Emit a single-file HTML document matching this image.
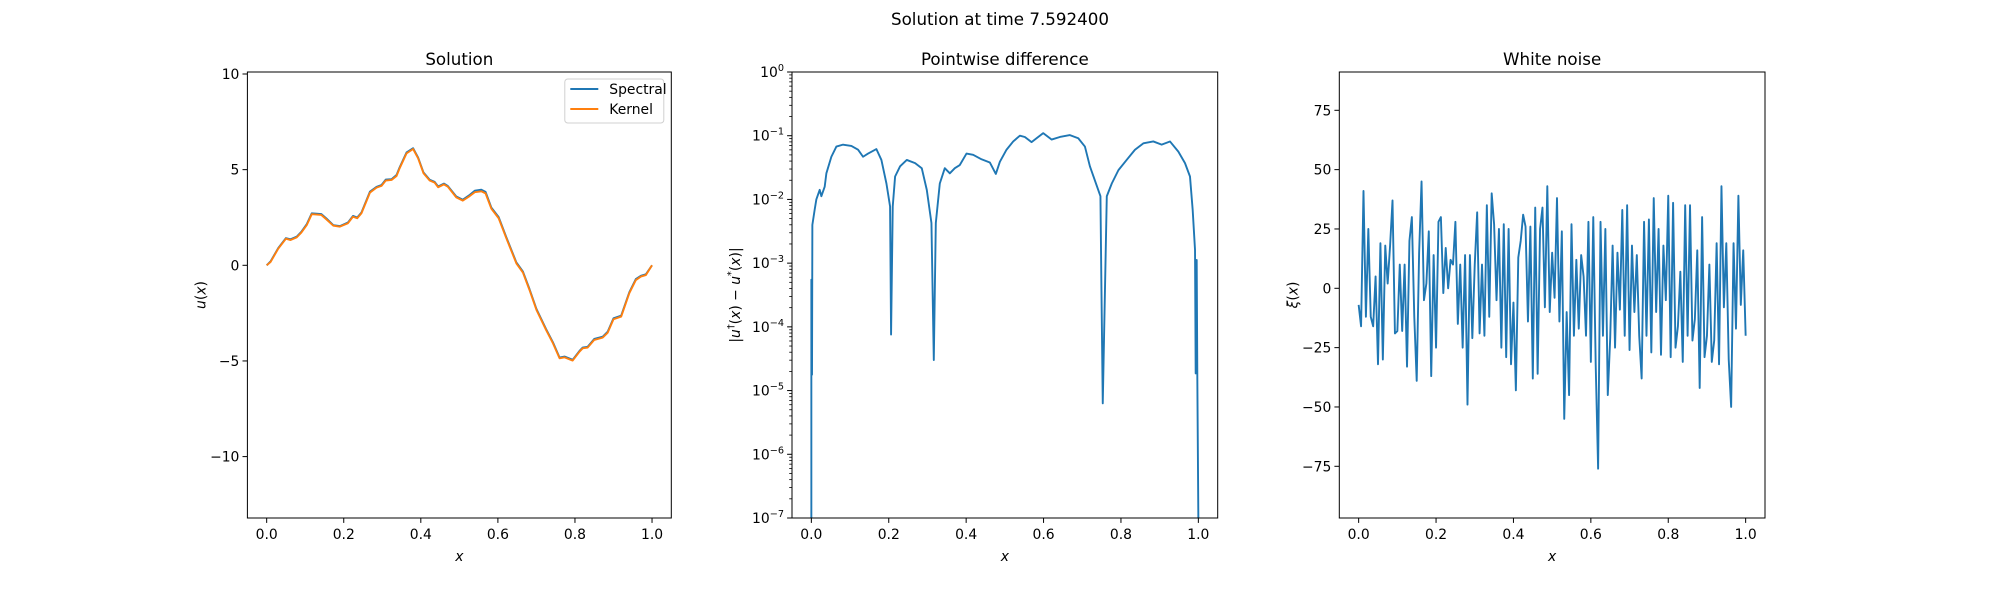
<!DOCTYPE html>
<html><head><meta charset="utf-8">
<style>
html,body{margin:0;padding:0;background:#fff;}
svg{display:block;font-family:"DejaVu Sans","Liberation Sans",sans-serif;}
</style></head>
<body>
<svg id="fig" width="2000" height="600" viewBox="0 0 2000 600">
<rect width="2000" height="600" fill="#fff"/>
<text x="1000" y="25" text-anchor="middle" font-size="16.7">Solution at time 7.592400</text>
</svg>
<script>
// ---- Panel 1 data: solution ----
const solX = [0,0.01,0.03,0.05,0.062,0.078,0.09,0.104,0.117,0.13,0.142,0.155,0.173,0.19,0.211,0.224,0.235,0.246,0.268,0.285,0.298,0.309,0.324,0.337,0.345,0.363,0.38,0.393,0.407,0.423,0.436,0.445,0.46,0.47,0.492,0.509,0.527,0.54,0.557,0.568,0.583,0.602,0.622,0.648,0.665,0.682,0.7,0.725,0.743,0.76,0.773,0.794,0.812,0.82,0.833,0.85,0.872,0.885,0.9,0.92,0.941,0.958,0.971,0.984,1.0];
const spectralY = [0,0.2,0.9,1.42,1.36,1.5,1.75,2.15,2.72,2.7,2.68,2.45,2.1,2.05,2.24,2.58,2.5,2.76,3.85,4.1,4.2,4.48,4.5,4.72,5.12,5.9,6.12,5.63,4.85,4.47,4.36,4.12,4.27,4.15,3.6,3.43,3.68,3.9,3.95,3.84,3.02,2.52,1.46,0.15,-0.33,-1.24,-2.28,-3.33,-4.03,-4.82,-4.77,-4.94,-4.47,-4.3,-4.26,-3.85,-3.73,-3.47,-2.77,-2.63,-1.41,-0.72,-0.55,-0.47,0];
const kernelY = [0,0.17,0.87,1.39,1.32,1.46,1.71,2.1,2.67,2.65,2.63,2.4,2.07,2.02,2.2,2.54,2.46,2.72,3.8,4.06,4.15,4.43,4.46,4.67,5.07,5.85,6.08,5.59,4.81,4.43,4.32,4.08,4.23,4.11,3.55,3.38,3.62,3.82,3.87,3.76,2.96,2.46,1.41,0.1,-0.38,-1.29,-2.33,-3.38,-4.08,-4.86,-4.81,-4.98,-4.51,-4.34,-4.3,-3.9,-3.78,-3.52,-2.82,-2.68,-1.46,-0.77,-0.59,-0.51,0];
const solYTicks = [10,5,0,-5,-10];
const xTicks = [0,0.2,0.4,0.6,0.8,1.0];
const xTickLabels = ["0.0","0.2","0.4","0.6","0.8","1.0"];
// ---- Panel 2 data: pointwise difference (log10 of value) ----
const diffX = [0,0,0.0017,0.0026,0.0086,0.0129,0.0216,0.0259,0.0345,0.0388,0.0517,0.0647,0.0819,0.1034,0.1207,0.1336,0.1466,0.1681,0.181,0.194,0.2034,0.2060,0.2103,0.2164,0.2293,0.2466,0.2681,0.2853,0.2983,0.3103,0.3164,0.3216,0.3319,0.3448,0.3578,0.3707,0.3836,0.4009,0.4181,0.4397,0.4612,0.4767,0.4871,0.5043,0.5216,0.5388,0.5517,0.569,0.5819,0.5991,0.6207,0.6422,0.6681,0.6897,0.7069,0.7198,0.7470,0.7496,0.7530,0.7634,0.7763,0.7935,0.8147,0.8362,0.8578,0.8836,0.9052,0.9267,0.9483,0.9655,0.9784,0.9853,0.9914,0.9931,0.9957,0.9974,1.0];
const diffLog = [-7,-3.26,-4.75,-2.4,-2.16,-2.0,-1.85,-1.95,-1.8,-1.59,-1.33,-1.17,-1.14,-1.16,-1.22,-1.33,-1.28,-1.21,-1.38,-1.75,-2.11,-4.12,-2.11,-1.64,-1.48,-1.38,-1.43,-1.51,-1.85,-2.37,-4.52,-2.37,-1.75,-1.51,-1.59,-1.51,-1.46,-1.28,-1.3,-1.37,-1.42,-1.6,-1.41,-1.22,-1.09,-1.0,-1.02,-1.1,-1.04,-0.96,-1.06,-1.02,-0.99,-1.04,-1.17,-1.48,-1.95,-3.42,-5.2,-1.95,-1.75,-1.54,-1.38,-1.22,-1.12,-1.09,-1.14,-1.09,-1.25,-1.43,-1.64,-2.16,-2.79,-4.73,-2.95,-4.83,-7];
const diffYTickExp = [0,-1,-2,-3,-4,-5,-6,-7];
// ---- Panel 3 data: white noise ----
const noiseY = [-7,-16,41,-12,25,-12,-16,5,-32,19,-30,18,2,18,37,-19,-18,10,-18,10,-33,20,30,-12,-39,15,45,-5,2,24,-37,14,-25,28,30,-2,17,0,12,10,28,-15,10,-25,14,-49,14,-21,10,32,-19,10,-20,35,-12,40,27,-5,25,-25,27,-29,25,-32,-6,-43,13,20,31,26,-14,26,-38,34,-36,25,34,-8,43,-10,15,-4,38,-14,24,-55,-10,-45,27,-20,12,-17,14,5,-20,28,-31,30,-32,-76,28,-20,25,-45,-21,18,-25,15,-9,33,-20,35,-26,18,-10,14,-20,-38,28,-20,29,-27,38,-10,25,-28,18,-5,39,-29,36,-25,-16,7,-31,35,-20,35,-22,-13,16,-42,30,-29,-20,10,-31,-22,19,-32,43,-8,19,-30,-50,19,-17,39,-7,16,-20];
const noiseYTicks = [75,50,25,0,-25,-50,-75];

const NS = "http://www.w3.org/2000/svg";
const fig = document.getElementById('fig');
function mk(tag, attrs, parent){ const e=document.createElementNS(NS,tag); for(const k in attrs) e.setAttribute(k,attrs[k]); (parent||fig).appendChild(e); return e; }
function linScale(d0,d1,r0,r1){ return v=>r0+(v-d0)*(r1-r0)/(d1-d0); }

const TOP=72, BOT=518;
function panel(name, left, right, xmin, xmax, title){
  const g = mk('g',{});
  
  
  const sx = linScale(xmin,xmax,left,right);
  const t = mk('text',{x:(left+right)/2,y:TOP-7,'text-anchor':'middle','font-size':16.7},g);
  t.textContent = title;
  
  
  xTicks.forEach((v,i)=>{
    const x=sx(v);
    const tk = mk('line',{x1:x,x2:x,y1:BOT,y2:BOT+4.9,stroke:'#000','stroke-width':1},g);
    
    
    const lb = mk('text',{x:x,y:BOT+21,'text-anchor':'middle','font-size':13.9},g);
    lb.textContent = xTickLabels[i];
    
    
  });
  const xl = mk('text',{x:(left+right)/2,y:BOT+43,'text-anchor':'middle','font-size':13.9,'font-style':'italic'},g);
  xl.textContent='x';
  
  
  return {g,sx};
}
function frame(g,left,right){
  const r = mk('rect',{x:left,y:TOP,width:right-left,height:BOT-TOP,fill:'none',stroke:'#000','stroke-width':1},g);
  
  
}
function yTick(g,left,y,label,sup){
  const tk = mk('line',{x1:left-4.9,x2:left,y1:y,y2:y,stroke:'#000','stroke-width':1},g);
  
  
  const lb = mk('text',{x:left-8,y:y+5,'text-anchor':'end','font-size':13.9},g);
  if(sup!==undefined && sup!==null){
    const a=mk('tspan',{},lb); a.textContent='10';
    const b=mk('tspan',{'font-size':9.7,dy:-6},lb); b.textContent=sup;
  } else lb.textContent=label;
  
  
}
function yTitle(g,x,html,name){
  const t = mk('text',{x:x,y:(TOP+BOT)/2,'text-anchor':'middle','font-size':13.9,transform:`rotate(-90 ${x} ${(TOP+BOT)/2})`},g);
  t.innerHTML = html;
  
  
}
function path(g,pts,color,name){
  const p = mk('path',{d:'M'+pts.map(q=>q[0].toFixed(2)+','+q[1].toFixed(2)).join('L'),fill:'none',stroke:color,'stroke-width':1.9,'stroke-linejoin':'round'},g);
  
  
}

// Panel 1
(function(){
  const L=247.4,R=671.3;
  const {g,sx}=panel('solution-panel',L,R,-0.05,1.05,'Solution');
  const sy=linScale(0,10,265.3,74);
  solYTicks.forEach(v=>yTick(g,L,sy(v),v<0?'\u2212'+Math.abs(v):String(v)));
  yTitle(g,L-42,'<tspan font-style="italic">u</tspan>(<tspan font-style="italic">x</tspan>)','y-axis-title');
  path(g,solX.map((x,i)=>[sx(x),sy(spectralY[i])]),'#1f77b4','spectral-line');
  path(g,solX.map((x,i)=>[sx(x),sy(kernelY[i])]),'#ff7f0e','kernel-line');
  frame(g,L,R);
  const lg = mk('g',{},g);
  
  
  mk('rect',{x:R-106.5,y:79,width:99,height:44,rx:3,fill:'#fff',stroke:'#ccc','stroke-width':1,opacity:0.9},lg);
  [['Spectral','#1f77b4'],['Kernel','#ff7f0e']].forEach((e,i)=>{
    const y=89+i*20;
    const ln=mk('line',{x1:R-101,x2:R-73,y1:y,y2:y,stroke:e[1],'stroke-width':1.9},lg);
    
    
    const t=mk('text',{x:R-62,y:y+5,'font-size':13.9},lg);
    t.textContent=e[0];
    
    
  });
})();

// Panel 2
(function(){
  const L=792,R=1217.7;
  const {g,sx}=panel('difference-panel',L,R,-0.05,1.05,'Pointwise difference');
  const sy=linScale(-7,0,BOT,TOP);
  diffYTickExp.forEach(e=>yTick(g,L,sy(e),null,e===0?'0':'\u2212'+Math.abs(e)));
  for(let d=-7; d<0; d++){
    for(let m=2;m<=9;m++){
      const y=sy(d+Math.log10(m));
      const tk=mk('line',{x1:L-2.8,x2:L,y1:y,y2:y,stroke:'#000','stroke-width':0.8},g);
      
      
    }
  }
  yTitle(g,L-52,'|<tspan font-style="italic">u</tspan><tspan font-size="9.7" dy="-6">\u2020</tspan><tspan dy="6">(</tspan><tspan font-style="italic">x</tspan>) \u2212 <tspan font-style="italic">u</tspan><tspan font-size="9.7" dy="-6">*</tspan><tspan dy="6">(</tspan><tspan font-style="italic">x</tspan>)|','y-axis-title');
  path(g,diffX.map((x,i)=>[sx(x),sy(Math.max(-7,diffLog[i]))]),'#1f77b4','difference-line');
  frame(g,L,R);
})();

// Panel 3
(function(){
  const L=1339.3,R=1765;
  const {g,sx}=panel('noise-panel',L,R,-0.05,1.05,'White noise');
  const sy=linScale(0,75,288.3,110.3);
  noiseYTicks.forEach(v=>yTick(g,L,sy(v),v<0?'\u2212'+Math.abs(v):String(v)));
  yTitle(g,L-42,'<tspan font-style="italic">\u03be</tspan>(<tspan font-style="italic">x</tspan>)','y-axis-title');
  const n=noiseY.length;
  path(g,noiseY.map((v,i)=>[sx(i/(n-1)),sy(v)]),'#1f77b4','noise-line');
  frame(g,L,R);
})();
</script>
</body></html>
